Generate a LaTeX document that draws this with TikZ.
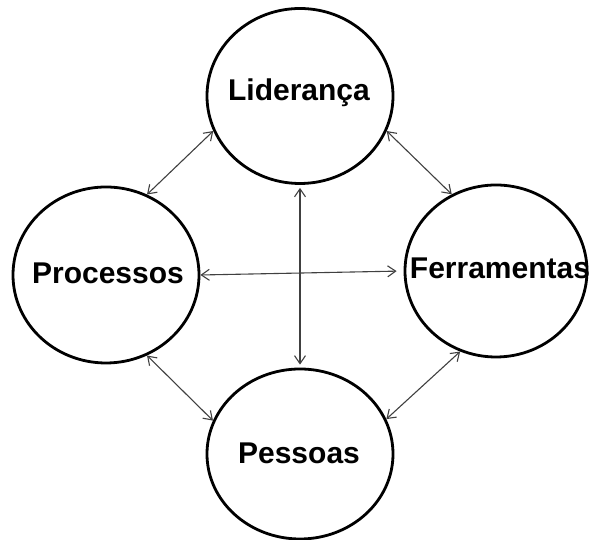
\documentclass[tikz,border=0pt]{standalone}
\usepackage{fontspec}
\setmainfont{Liberation Sans}
\usetikzlibrary{arrows.meta,shapes.geometric}
\begin{document}
\begin{tikzpicture}[x=1pt,y=1pt,
  pillar/.style={ellipse, draw=black, line width=2.8pt, inner sep=0pt},
  caption/.style={inner sep=0pt, font=\fontsize{30}{36}\selectfont\bfseries},
  link/.style={draw=black!75, line width=1.1pt,
    {Straight Barb[length=8pt,width=11pt]}-{Straight Barb[length=8pt,width=11pt]}}]
  \useasboundingbox (0,0) rectangle (590,540);

  % the four pillars
  \node[pillar, minimum width=186pt, minimum height=175pt] (lid) at (300,444) {};
  \node[pillar, minimum width=186pt, minimum height=176pt] (proc) at (106,265) {};
  \node[pillar, minimum width=182pt, minimum height=172pt] (ferr) at (496,269) {};
  \node[pillar, minimum width=186pt, minimum height=170pt] (pess) at (300,86) {};

  % their names
  \node[caption] (tlid) at (299,447) {Liderança};
  \node[caption] (tproc) at (108,267) {Processos};
  \node[caption] (tferr) at (500,272) {Ferramentas};
  \node[caption] (tpess) at (299,87) {Pessoas};

  % two-way links between the pillars
  \draw[link] (proc.63) -- (lid.202);
  \draw[link] (lid.338) -- (ferr.120);
  \draw[link, shorten <=3pt, shorten >=3pt] (lid.270) -- (pess.90);
  \draw[link, shorten >=7pt] (proc.0) -- (ferr.180);
  \draw[link] (proc.297) -- (pess.159);
  \draw[link] (ferr.246) -- (pess.22);
\end{tikzpicture}
\end{document}
